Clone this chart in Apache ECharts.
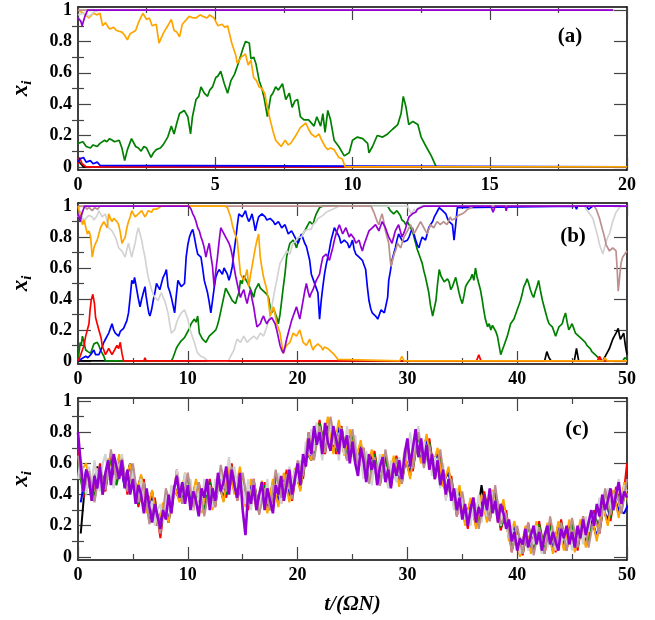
<!DOCTYPE html>
<html>
<head>
<meta charset="utf-8">
<script src="https://cdn.jsdelivr.net/npm/echarts@6/dist/echarts.min.js"></script>
<style>
  html, body { margin: 0; padding: 0; background: #fff; }
  #chart { width: 655px; height: 620px; }
</style>
</head>
<body>
<div id="chart"></div>
<script>
// ---- panel (a): [t, x_i] pairs ----
const aBlack = [[0,0.04],[0.1,0.02],[0.2,0],[20,0]];
const aRed = [[0,0.02],[0.06,0.06],[0.15,0.02],[0.3,0],[20,0]];
const aGreen = [[0,0.15],[0.06,0.15],[0.18,0.16],[0.3,0.13],[0.45,0.12],[0.55,0.14],[0.7,0.13],[0.8,0.15],[0.97,0.17],[1.05,0.16],[1.15,0.18],[1.25,0.17],[1.33,0.16],[1.5,0.17],[1.6,0.12],[1.7,0.04],[1.8,0.11],[1.95,0.18],[2.1,0.13],[2.2,0.12],[2.3,0.1],[2.4,0.13],[2.5,0.12],[2.66,0.06],[2.75,0.09],[2.85,0.11],[3.0,0.12],[3.1,0.14],[3.27,0.19],[3.4,0.26],[3.5,0.21],[3.6,0.28],[3.7,0.34],[3.87,0.36],[4.0,0.32],[4.1,0.21],[4.17,0.32],[4.3,0.43],[4.4,0.45],[4.48,0.51],[4.6,0.47],[4.72,0.45],[4.8,0.49],[4.9,0.51],[5.02,0.57],[5.1,0.58],[5.2,0.61],[5.33,0.53],[5.45,0.47],[5.57,0.55],[5.7,0.59],[5.8,0.64],[5.93,0.71],[6.0,0.75],[6.1,0.8],[6.24,0.79],[6.3,0.69],[6.4,0.7],[6.48,0.66],[6.6,0.55],[6.7,0.5],[6.78,0.44],[6.9,0.32],[7.02,0.45],[7.1,0.47],[7.2,0.51],[7.3,0.49],[7.45,0.53],[7.57,0.43],[7.7,0.47],[7.8,0.38],[7.9,0.42],[8.0,0.43],[8.1,0.32],[8.23,0.3],[8.4,0.3],[8.6,0.26],[8.7,0.32],[8.84,0.26],[8.92,0.34],[9.0,0.22],[9.1,0.36],[9.2,0.3],[9.33,0.17],[9.5,0.13],[9.7,0.07],[9.88,0.09],[10.0,0.17],[10.18,0.19],[10.37,0.18],[10.55,0.15],[10.6,0.09],[10.73,0.13],[10.9,0.2],[11.1,0.19],[11.28,0.21],[11.46,0.24],[11.65,0.27],[11.77,0.34],[11.85,0.45],[11.95,0.38],[12.05,0.27],[12.2,0.29],[12.38,0.27],[12.5,0.19],[12.68,0.13],[12.87,0.07],[13.05,0],[20,0]];
const aBlue = [[0,0.03],[0.06,0.05],[0.2,0.06],[0.3,0.03],[0.45,0.04],[0.55,0.02],[0.7,0.03],[0.8,0.01],[0.85,0],[20,0]];
const aOrange = [[0,1],[0.06,0.99],[0.2,0.98],[0.4,0.95],[0.55,0.98],[0.7,0.97],[0.8,0.98],[0.9,0.9],[1.0,0.92],[1.15,0.88],[1.3,0.89],[1.4,0.87],[1.6,0.86],[1.7,0.84],[1.8,0.81],[1.9,0.85],[2.1,0.87],[2.2,0.92],[2.36,0.98],[2.5,0.94],[2.6,0.95],[2.7,0.9],[2.85,0.91],[2.95,0.79],[3.1,0.85],[3.2,0.88],[3.27,0.9],[3.4,0.94],[3.5,0.87],[3.6,0.86],[3.7,0.83],[3.8,0.91],[3.9,0.93],[4.05,0.96],[4.2,0.95],[4.3,0.95],[4.45,0.97],[4.55,0.96],[4.7,0.95],[4.8,0.97],[4.95,0.95],[5.1,0.9],[5.25,0.91],[5.35,0.89],[5.45,0.9],[5.6,0.79],[5.75,0.71],[5.8,0.66],[5.95,0.7],[6.1,0.72],[6.2,0.65],[6.3,0.68],[6.4,0.57],[6.5,0.55],[6.6,0.51],[6.7,0.5],[6.8,0.47],[6.9,0.38],[7.0,0.3],[7.1,0.23],[7.2,0.17],[7.3,0.15],[7.4,0.13],[7.55,0.17],[7.65,0.14],[7.75,0.15],[7.9,0.19],[8.0,0.22],[8.1,0.25],[8.3,0.28],[8.4,0.24],[8.5,0.21],[8.65,0.19],[8.78,0.21],[8.85,0.18],[9.0,0.13],[9.1,0.11],[9.2,0.12],[9.33,0.11],[9.5,0.06],[9.63,0.05],[9.73,0],[20,0]];
const aGray = [[0,0.97],[0.2,0.98],[0.4,0.96],[0.6,0.99],[0.8,1],[19.5,1]];
const aBrown = [[0,1],[19.5,1]];
const aPurple = [[0,0.95],[0.1,0.93],[0.15,0.9],[0.25,0.96],[0.35,1],[19.5,1]];

// ---- panel (b) ----
const bBlack = [[0,0],[42.5,0],[42.7,0.06],[42.9,0.02],[43.1,0],[45.2,0],[45.4,0.08],[45.6,0],[47.8,0],[48.1,0.04],[48.25,0.06],[48.4,0.08],[48.55,0.11],[48.7,0.14],[48.85,0.16],[49.0,0.18],[49.2,0.21],[49.3,0.17],[49.4,0.14],[49.55,0.16],[49.7,0.18],[49.85,0.1],[50,0.04]];
const bGreen = [[0,0],[0.1,0.06],[0.2,0.12],[0.3,0.1],[0.4,0.16],[0.55,0.12],[0.7,0.07],[0.9,0.06],[1.15,0.05],[1.3,0.08],[1.45,0.11],[1.6,0.1],[1.75,0.12],[1.9,0.1],[2.05,0.07],[2.2,0.05],[2.35,0.03],[2.5,0],[8.5,0],[8.65,0.02],[8.8,0.05],[8.95,0.08],[9.1,0.1],[9.25,0.09],[9.4,0.13],[9.55,0.12],[9.7,0.15],[9.85,0.14],[10.0,0.19],[10.15,0.21],[10.3,0.24],[10.45,0.23],[10.6,0.27],[10.75,0.25],[10.9,0.29],[11.05,0.18],[11.2,0.16],[11.35,0.14],[11.5,0.15],[11.65,0.12],[11.8,0.14],[11.95,0.16],[12.1,0.15],[12.25,0.18],[12.4,0.17],[12.55,0.2],[12.7,0.23],[12.85,0.27],[13.0,0.32],[13.15,0.37],[13.3,0.42],[13.45,0.47],[13.6,0.45],[13.75,0.44],[13.9,0.41],[14.05,0.39],[14.2,0.4],[14.35,0.37],[14.5,0.41],[14.65,0.44],[14.8,0.52],[14.95,0.5],[15.1,0.55],[15.25,0.53],[15.4,0.52],[15.55,0.49],[15.7,0.48],[15.85,0.44],[16.0,0.41],[16.15,0.46],[16.3,0.48],[16.45,0.5],[16.6,0.47],[16.75,0.46],[16.9,0.45],[17.05,0.44],[17.2,0.43],[17.35,0.41],[17.5,0.35],[17.65,0.31],[17.8,0.34],[17.95,0.33],[18.1,0.28],[18.25,0.24],[18.4,0.3],[18.55,0.39],[18.7,0.48],[18.85,0.56],[19.0,0.67],[19.15,0.72],[19.3,0.76],[19.45,0.75],[19.6,0.78],[19.75,0.76],[19.9,0.73],[20.05,0.77],[20.2,0.8],[20.35,0.79],[20.5,0.82],[20.65,0.84],[20.8,0.86],[20.95,0.88],[21.1,0.9],[21.25,0.89],[21.4,0.88],[21.55,0.92],[21.7,0.95],[21.85,0.97],[22.0,0.99],[22.3,1],[28.2,1],[28.3,0.99],[28.45,0.97],[28.6,0.97],[28.75,0.95],[28.9,0.96],[29.05,0.97],[29.2,0.98],[29.35,0.94],[29.5,0.91],[29.7,0.9],[29.85,0.88],[30.0,0.9],[30.15,0.89],[30.3,0.86],[30.45,0.84],[30.6,0.8],[30.75,0.76],[30.9,0.72],[31.05,0.69],[31.2,0.66],[31.35,0.63],[31.5,0.58],[31.65,0.54],[31.8,0.49],[31.95,0.44],[32.1,0.36],[32.3,0.29],[32.45,0.34],[32.6,0.39],[32.75,0.5],[32.9,0.59],[33.05,0.55],[33.2,0.53],[33.35,0.51],[33.5,0.5],[33.65,0.53],[33.8,0.51],[33.95,0.46],[34.1,0.48],[34.25,0.51],[34.4,0.54],[34.55,0.49],[34.7,0.44],[34.85,0.4],[35.0,0.37],[35.15,0.42],[35.3,0.48],[35.45,0.5],[35.6,0.51],[35.75,0.53],[35.9,0.56],[36.05,0.52],[36.2,0.6],[36.35,0.54],[36.5,0.5],[36.65,0.46],[36.8,0.4],[36.95,0.33],[37.1,0.27],[37.3,0.22],[37.45,0.24],[37.6,0.2],[37.75,0.23],[37.9,0.22],[38.05,0.19],[38.2,0.16],[38.35,0.1],[38.5,0.04],[38.65,0.07],[38.8,0.1],[38.95,0.13],[39.1,0.16],[39.25,0.2],[39.4,0.24],[39.55,0.25],[39.7,0.27],[39.85,0.3],[40.0,0.33],[40.15,0.36],[40.3,0.39],[40.45,0.43],[40.6,0.48],[40.75,0.5],[40.9,0.53],[41.05,0.5],[41.2,0.46],[41.35,0.43],[41.5,0.41],[41.65,0.45],[41.8,0.48],[41.95,0.52],[42.1,0.46],[42.3,0.39],[42.45,0.35],[42.6,0.31],[42.75,0.27],[42.9,0.24],[43.05,0.25],[43.2,0.22],[43.35,0.19],[43.5,0.16],[43.65,0.19],[43.8,0.22],[43.95,0.23],[44.1,0.24],[44.25,0.28],[44.4,0.31],[44.55,0.25],[44.7,0.2],[44.85,0.22],[45.0,0.24],[45.15,0.21],[45.3,0.18],[45.45,0.19],[45.6,0.16],[45.75,0.15],[45.9,0.14],[46.05,0.13],[46.2,0.12],[46.35,0.1],[46.5,0.09],[46.65,0.08],[46.8,0.06],[46.95,0.05],[47.1,0.04],[47.25,0.03],[47.4,0.02],[47.7,0],[49.6,0],[49.8,0.02],[50,0.01]];
const bBlue = [[0,0],[0.7,0.03],[0.9,0.02],[1.15,0.04],[1.3,0.05],[1.45,0.07],[1.6,0.04],[1.75,0.03],[1.9,0.04],[2.05,0.05],[2.2,0.09],[2.35,0.12],[2.5,0.14],[2.65,0.16],[2.8,0.18],[2.95,0.21],[3.1,0.24],[3.25,0.2],[3.4,0.18],[3.55,0.17],[3.7,0.16],[3.85,0.19],[4.0,0.2],[4.15,0.21],[4.3,0.2],[4.45,0.26],[4.6,0.31],[4.75,0.41],[4.9,0.52],[5.05,0.5],[5.15,0.54],[5.25,0.5],[5.35,0.46],[5.5,0.4],[5.65,0.35],[5.8,0.4],[5.95,0.44],[6.1,0.48],[6.2,0.42],[6.35,0.35],[6.45,0.31],[6.55,0.29],[6.7,0.33],[6.85,0.39],[7.0,0.44],[7.15,0.5],[7.3,0.48],[7.45,0.46],[7.6,0.5],[7.75,0.54],[7.9,0.56],[8.05,0.59],[8.2,0.48],[8.35,0.45],[8.5,0.41],[8.65,0.36],[8.8,0.31],[8.95,0.42],[9.1,0.52],[9.25,0.5],[9.4,0.48],[9.55,0.47],[9.7,0.5],[9.85,0.67],[10.0,0.75],[10.15,0.8],[10.3,0.83],[10.45,0.85],[10.6,0.8],[10.75,0.74],[10.9,0.69],[11.05,0.7],[11.2,0.67],[11.35,0.6],[11.5,0.52],[11.65,0.48],[11.8,0.44],[11.95,0.38],[12.1,0.31],[12.25,0.39],[12.4,0.47],[12.55,0.54],[12.7,0.57],[12.85,0.59],[13.0,0.58],[13.15,0.56],[13.3,0.6],[13.45,0.61],[13.6,0.56],[13.75,0.52],[13.9,0.56],[14.05,0.61],[14.2,0.7],[14.35,0.78],[14.5,0.87],[14.65,0.95],[14.8,0.94],[14.95,0.93],[15.1,0.95],[15.25,0.97],[15.4,0.93],[15.55,0.9],[15.7,0.92],[15.85,0.95],[16.0,0.9],[16.15,0.84],[16.3,0.89],[16.45,0.93],[16.6,0.94],[16.75,0.95],[16.9,0.94],[17.05,0.93],[17.2,0.91],[17.35,0.9],[17.5,0.92],[17.65,0.93],[17.8,0.9],[17.95,0.88],[18.1,0.89],[18.25,0.9],[18.4,0.88],[18.55,0.86],[18.7,0.87],[18.85,0.88],[19.0,0.85],[19.15,0.82],[19.3,0.83],[19.45,0.84],[19.6,0.82],[19.75,0.8],[19.9,0.78],[20.05,0.76],[20.2,0.79],[20.35,0.82],[20.5,0.79],[20.65,0.76],[20.8,0.74],[20.95,0.73],[21.1,0.65],[21.25,0.56],[21.4,0.53],[21.55,0.5],[21.7,0.47],[21.85,0.44],[22.0,0.27],[22.15,0.39],[22.3,0.48],[22.45,0.56],[22.6,0.62],[22.75,0.67],[22.9,0.72],[23.05,0.78],[23.2,0.82],[23.35,0.86],[23.5,0.84],[23.65,0.82],[23.8,0.8],[23.95,0.76],[24.1,0.76],[24.25,0.78],[24.4,0.78],[24.55,0.76],[24.7,0.73],[24.85,0.75],[25.0,0.78],[25.15,0.72],[25.3,0.69],[25.45,0.68],[25.6,0.67],[25.75,0.66],[25.9,0.65],[26.05,0.62],[26.2,0.59],[26.35,0.48],[26.5,0.39],[26.65,0.34],[26.8,0.31],[26.95,0.3],[27.1,0.29],[27.3,0.27],[27.45,0.3],[27.6,0.33],[27.75,0.32],[27.9,0.31],[28.05,0.36],[28.2,0.41],[28.3,0.52],[28.45,0.58],[28.6,0.65],[28.75,0.69],[28.9,0.73],[29.05,0.78],[29.2,0.82],[29.35,0.8],[29.5,0.78],[29.7,0.77],[29.85,0.76],[30.0,0.78],[30.15,0.8],[30.3,0.83],[30.45,0.86],[30.6,0.82],[30.75,0.78],[30.9,0.75],[31.05,0.73],[31.2,0.77],[31.35,0.8],[31.5,0.79],[31.65,0.78],[31.8,0.82],[31.95,0.86],[32.1,0.88],[32.3,0.9],[32.45,0.93],[32.6,0.95],[32.75,0.97],[32.9,0.99],[33.05,0.98],[33.2,0.97],[33.35,0.96],[33.5,0.95],[33.65,0.92],[33.8,0.9],[33.95,0.89],[34.1,0.88],[34.25,0.78],[34.4,0.88],[34.55,0.99],[34.7,1],[45.3,1],[45.4,0.98],[45.5,1],[46.3,1],[46.5,0.98],[46.7,0.99],[46.9,1],[50,1]];
const bGray = [[0,0.93],[0.1,0.95],[0.25,0.97],[0.4,0.93],[0.55,0.9],[0.7,0.92],[0.85,0.93],[1.0,0.94],[1.15,0.95],[1.3,0.93],[1.45,0.91],[1.6,0.9],[1.75,0.94],[1.9,0.97],[2.05,0.95],[2.2,0.93],[2.35,0.94],[2.5,0.95],[2.65,0.9],[2.8,0.86],[2.95,0.85],[3.1,0.84],[3.25,0.82],[3.4,0.8],[3.55,0.77],[3.7,0.73],[3.85,0.72],[4.0,0.71],[4.15,0.69],[4.3,0.67],[4.45,0.72],[4.6,0.76],[4.75,0.71],[4.9,0.67],[5.05,0.72],[5.2,0.76],[5.35,0.82],[5.5,0.86],[5.65,0.82],[5.8,0.78],[5.95,0.72],[6.1,0.67],[6.25,0.6],[6.4,0.54],[6.55,0.5],[6.7,0.46],[6.85,0.43],[7.0,0.41],[7.15,0.4],[7.3,0.39],[7.45,0.42],[7.6,0.44],[7.75,0.41],[7.9,0.39],[8.05,0.35],[8.2,0.31],[8.35,0.24],[8.5,0.18],[8.65,0.19],[8.8,0.2],[8.95,0.24],[9.1,0.27],[9.25,0.29],[9.4,0.31],[9.55,0.32],[9.7,0.33],[9.85,0.3],[10.0,0.27],[10.15,0.22],[10.3,0.18],[10.45,0.15],[10.6,0.12],[10.75,0.08],[10.9,0.05],[11.05,0.04],[11.2,0.03],[11.5,0.02],[11.8,0],[13.7,0],[13.9,0.03],[14.05,0.05],[14.2,0.07],[14.35,0.11],[14.5,0.14],[14.65,0.13],[14.8,0.12],[14.95,0.14],[15.1,0.16],[15.25,0.14],[15.4,0.12],[15.55,0.13],[15.7,0.14],[15.85,0.15],[16.0,0.16],[16.15,0.15],[16.3,0.14],[16.45,0.16],[16.6,0.18],[16.75,0.17],[16.9,0.16],[17.05,0.19],[17.2,0.22],[17.35,0.26],[17.5,0.29],[17.65,0.35],[17.8,0.41],[17.95,0.47],[18.1,0.52],[18.25,0.58],[18.4,0.63],[18.55,0.65],[18.7,0.67],[18.85,0.69],[19.0,0.71],[19.15,0.7],[19.3,0.69],[19.45,0.73],[19.6,0.76],[19.75,0.77],[19.9,0.78],[20.05,0.8],[20.2,0.81],[20.35,0.8],[20.5,0.82],[20.65,0.84],[20.8,0.83],[20.95,0.85],[21.1,0.86],[21.25,0.85],[21.4,0.88],[21.55,0.89],[21.7,0.9],[21.85,0.92],[22.0,0.93],[22.3,0.94],[22.6,0.96],[22.9,0.97],[23.2,0.98],[23.5,0.99],[23.8,1],[30.0,1],[30.2,0.97],[30.4,0.95],[30.6,0.98],[30.8,0.96],[31.0,0.99],[31.2,1],[46.1,1],[46.3,0.98],[46.6,0.95],[46.9,0.92],[47.05,0.88],[47.2,0.84],[47.35,0.8],[47.5,0.75],[47.65,0.72],[47.8,0.69],[47.95,0.73],[48.1,0.77],[48.25,0.8],[48.4,0.82],[48.55,0.86],[48.7,0.9],[48.85,0.93],[49.0,0.96],[49.3,0.99],[49.5,1],[50,1]];
const bBrown = [[0,1],[0.6,1],[0.8,0.98],[1.0,0.99],[1.3,0.97],[1.5,0.99],[1.8,0.98],[2.0,1],[26.7,1],[26.8,0.99],[26.95,0.96],[27.1,0.93],[27.25,0.9],[27.4,0.88],[27.55,0.92],[27.7,0.95],[27.85,0.9],[28.0,0.84],[28.15,0.8],[28.3,0.76],[28.4,0.68],[28.5,0.61],[28.65,0.65],[28.8,0.69],[28.95,0.72],[29.1,0.76],[29.25,0.75],[29.4,0.73],[29.55,0.77],[29.7,0.8],[29.85,0.82],[30.0,0.84],[30.15,0.86],[30.3,0.88],[30.45,0.85],[30.6,0.82],[30.75,0.84],[30.9,0.86],[31.05,0.88],[31.2,0.9],[31.35,0.88],[31.5,0.86],[31.65,0.84],[31.8,0.82],[31.95,0.85],[32.1,0.88],[32.25,0.87],[32.4,0.86],[32.55,0.88],[32.7,0.9],[32.85,0.89],[33.0,0.88],[33.15,0.89],[33.3,0.9],[33.45,0.89],[33.6,0.88],[33.75,0.9],[33.9,0.93],[34.05,0.91],[34.2,0.9],[34.35,0.92],[34.5,0.93],[34.65,0.94],[34.8,0.95],[35.0,0.95],[35.2,0.96],[35.5,0.98],[35.8,0.99],[36.0,1],[47.0,1],[47.2,0.98],[47.35,0.95],[47.5,0.92],[47.65,0.88],[47.8,0.84],[47.95,0.8],[48.1,0.75],[48.25,0.73],[48.4,0.71],[48.55,0.72],[48.7,0.73],[48.85,0.72],[49.0,0.71],[49.1,0.6],[49.2,0.45],[49.3,0.52],[49.45,0.63],[49.6,0.67],[49.8,0.69],[50,0.71]];
const bRed = [[0,0],[0.2,0.03],[0.4,0.07],[0.55,0.1],[0.7,0.16],[0.85,0.2],[1.0,0.24],[1.1,0.33],[1.2,0.39],[1.35,0.43],[1.5,0.37],[1.6,0.28],[1.75,0.24],[1.9,0.2],[2.1,0.15],[2.2,0.1],[2.35,0.07],[2.5,0.04],[2.65,0.05],[2.8,0.08],[2.95,0.07],[3.1,0.04],[3.25,0.05],[3.4,0.08],[3.55,0.1],[3.7,0.08],[3.85,0.12],[4.0,0.05],[4.15,0],[6.0,0],[6.1,0.02],[6.2,0],[36.3,0],[36.5,0.04],[36.7,0],[47.3,0],[47.5,0.03],[47.7,0],[50,0]];
const bOrange = [[0,1],[0.1,0.99],[0.25,0.93],[0.4,0.88],[0.55,0.91],[0.7,0.9],[0.85,0.82],[1.0,0.84],[1.15,0.8],[1.3,0.67],[1.45,0.73],[1.6,0.76],[1.75,0.78],[1.9,0.82],[2.05,0.86],[2.2,0.88],[2.35,0.9],[2.5,0.88],[2.65,0.86],[2.8,0.95],[2.95,0.92],[3.1,0.9],[3.25,0.92],[3.4,0.93],[3.55,0.9],[3.7,0.88],[3.85,0.83],[4.0,0.76],[4.15,0.78],[4.3,0.8],[4.45,0.86],[4.6,0.9],[4.75,0.93],[4.9,0.97],[5.05,0.95],[5.2,0.93],[5.35,0.94],[5.5,0.95],[5.65,0.96],[5.8,0.97],[5.95,0.95],[6.1,0.93],[6.25,0.95],[6.4,0.97],[6.55,0.96],[6.7,0.96],[6.85,0.98],[7.0,0.97],[7.15,0.98],[7.3,0.99],[7.6,1],[13.4,1],[13.6,0.99],[13.75,0.96],[13.9,0.93],[14.05,0.88],[14.2,0.84],[14.35,0.81],[14.5,0.78],[14.65,0.67],[14.8,0.56],[14.95,0.54],[15.1,0.52],[15.25,0.55],[15.4,0.59],[15.55,0.48],[15.7,0.55],[15.85,0.61],[16.0,0.67],[16.15,0.73],[16.3,0.78],[16.45,0.82],[16.6,0.67],[16.75,0.6],[16.9,0.54],[17.05,0.5],[17.2,0.46],[17.35,0.38],[17.5,0.29],[17.65,0.32],[17.8,0.35],[17.95,0.3],[18.1,0.24],[18.25,0.21],[18.4,0.18],[18.55,0.11],[18.7,0.05],[18.85,0.08],[19.0,0.1],[19.15,0.11],[19.3,0.12],[19.45,0.15],[19.6,0.18],[19.75,0.17],[19.9,0.16],[20.05,0.18],[20.2,0.2],[20.35,0.16],[20.5,0.12],[20.65,0.11],[20.8,0.1],[20.95,0.12],[21.1,0.14],[21.25,0.1],[21.4,0.07],[21.55,0.09],[21.7,0.1],[21.85,0.11],[22.0,0.12],[22.15,0.09],[22.3,0.07],[22.45,0.09],[22.6,0.1],[22.75,0.08],[22.9,0.07],[23.05,0.06],[23.2,0.05],[23.35,0.04],[23.5,0.03],[23.65,0.01],[23.8,0],[29.3,0],[29.5,0.03],[29.7,0],[47.8,0],[48.0,0.02],[48.2,0],[50,0]];
const bPurple = [[0,0.95],[0.1,0.93],[0.2,0.9],[0.3,0.94],[0.45,0.97],[0.6,1],[10.1,1],[10.3,0.98],[10.45,0.95],[10.6,0.93],[10.75,0.9],[10.9,0.86],[11.05,0.84],[11.2,0.8],[11.35,0.77],[11.5,0.73],[11.65,0.67],[11.8,0.72],[11.95,0.76],[12.1,0.68],[12.25,0.61],[12.4,0.48],[12.55,0.58],[12.7,0.67],[12.85,0.77],[13.0,0.86],[13.15,0.84],[13.3,0.82],[13.45,0.8],[13.6,0.78],[13.75,0.76],[13.9,0.73],[14.05,0.68],[14.2,0.61],[14.35,0.55],[14.5,0.5],[14.65,0.45],[14.8,0.41],[14.95,0.44],[15.1,0.46],[15.25,0.41],[15.4,0.37],[15.55,0.42],[15.7,0.46],[15.85,0.4],[16.0,0.35],[16.15,0.28],[16.3,0.22],[16.45,0.23],[16.6,0.24],[16.75,0.27],[16.9,0.29],[17.05,0.26],[17.2,0.24],[17.35,0.26],[17.5,0.27],[17.65,0.28],[17.8,0.29],[17.95,0.24],[18.1,0.2],[18.25,0.15],[18.4,0.1],[18.55,0.07],[18.7,0.05],[18.85,0.09],[19.0,0.14],[19.15,0.18],[19.3,0.22],[19.45,0.26],[19.6,0.29],[19.75,0.32],[19.9,0.35],[20.05,0.31],[20.2,0.27],[20.35,0.33],[20.5,0.39],[20.65,0.45],[20.8,0.5],[20.95,0.45],[21.1,0.41],[21.25,0.44],[21.4,0.46],[21.55,0.49],[21.7,0.52],[21.85,0.54],[22.0,0.56],[22.15,0.62],[22.3,0.67],[22.45,0.68],[22.6,0.69],[22.75,0.67],[22.9,0.65],[23.05,0.69],[23.2,0.73],[23.35,0.78],[23.5,0.82],[23.65,0.85],[23.8,0.88],[23.95,0.85],[24.1,0.82],[24.25,0.84],[24.4,0.86],[24.55,0.83],[24.7,0.8],[24.85,0.82],[25.0,0.83],[25.15,0.79],[25.3,0.76],[25.45,0.77],[25.6,0.78],[25.75,0.74],[25.9,0.71],[26.05,0.75],[26.2,0.78],[26.35,0.81],[26.5,0.84],[26.65,0.85],[26.8,0.86],[26.95,0.87],[27.1,0.88],[27.25,0.86],[27.4,0.84],[27.55,0.87],[27.7,0.9],[27.85,0.88],[28.0,0.86],[28.15,0.83],[28.3,0.8],[28.45,0.78],[28.6,0.76],[28.75,0.8],[28.9,0.84],[29.05,0.86],[29.2,0.88],[29.35,0.84],[29.5,0.8],[29.7,0.83],[29.85,0.86],[30.0,0.9],[30.15,0.93],[30.3,0.94],[30.45,0.95],[30.6,0.95],[30.75,0.96],[30.9,0.98],[31.05,0.99],[31.5,1],[37.6,1],[37.8,0.96],[38.0,1],[38.9,1],[39.0,0.97],[39.1,1],[50,1]];

// ---- panel (c) ----
// purple and gray: one value every 0.25 time unit, from t = 0
const cPurple = [
  0.8,0.6,0.42,0.56,0.5,0.36,0.52,0.44,0.58,0.4,0.54,0.62,0.46,0.66,0.58,0.5,0.62,0.44,0.56,0.4,
  0.5,0.34,0.46,0.4,0.28,0.44,0.32,0.22,0.34,0.26,0.18,0.3,0.24,0.4,0.28,0.44,0.52,0.38,0.48,0.34,
  0.46,0.3,0.42,0.36,0.26,0.44,0.38,0.5,0.3,0.44,0.36,0.54,0.42,0.48,0.58,0.4,0.56,0.46,0.38,0.54,
  0.3,0.14,0.42,0.34,0.46,0.3,0.4,0.48,0.3,0.44,0.36,0.28,0.46,0.4,0.52,0.36,0.46,0.56,0.4,0.5,
  0.6,0.46,0.66,0.58,0.76,0.66,0.84,0.72,0.8,0.66,0.86,0.74,0.68,0.84,0.76,0.66,0.82,0.7,0.78,0.6,
  0.74,0.6,0.52,0.7,0.62,0.48,0.66,0.56,0.62,0.46,0.58,0.64,0.48,0.56,0.44,0.6,0.52,0.62,0.5,0.66,
  0.76,0.58,0.7,0.82,0.64,0.76,0.6,0.72,0.56,0.66,0.5,0.62,0.46,0.56,0.4,0.5,0.36,0.44,0.3,0.38,
  0.24,0.34,0.2,0.3,0.38,0.22,0.32,0.26,0.4,0.3,0.44,0.28,0.36,0.22,0.34,0.28,0.18,0.24,0.1,0.16,
  0.04,0.12,0.08,0.18,0.06,0.14,0.2,0.08,0.16,0.04,0.14,0.2,0.08,0.16,0.1,0.04,0.18,0.12,0.2,0.08,
  0.16,0.06,0.2,0.12,0.24,0.14,0.22,0.3,0.2,0.34,0.26,0.4,0.3,0.36,0.44,0.3,0.4,0.48,0.34,0.42,
  0.38];
const cGray = [
  0.5,0.64,0.5,0.4,0.58,0.46,0.62,0.5,0.42,0.6,0.66,0.5,0.58,0.44,0.62,0.56,0.66,0.48,0.54,0.42,
  0.56,0.44,0.36,0.5,0.3,0.4,0.26,0.36,0.2,0.3,0.34,0.22,0.4,0.3,0.46,0.38,0.56,0.46,0.4,0.54,
  0.38,0.5,0.3,0.46,0.38,0.3,0.5,0.4,0.46,0.32,0.5,0.4,0.56,0.44,0.52,0.64,0.5,0.58,0.44,0.52,
  0.46,0.34,0.5,0.3,0.44,0.36,0.28,0.46,0.36,0.5,0.3,0.46,0.4,0.54,0.34,0.48,0.42,0.58,0.46,0.56,
  0.48,0.62,0.56,0.74,0.66,0.82,0.68,0.86,0.74,0.62,0.8,0.7,0.88,0.72,0.8,0.62,0.76,0.66,0.84,0.7,
  0.64,0.78,0.56,0.64,0.5,0.68,0.56,0.46,0.6,0.52,0.66,0.5,0.58,0.44,0.62,0.54,0.48,0.64,0.56,0.7,
  0.62,0.8,0.66,0.74,0.84,0.68,0.74,0.62,0.7,0.52,0.64,0.56,0.44,0.6,0.36,0.48,0.42,0.3,0.44,0.28,
  0.38,0.24,0.3,0.2,0.36,0.28,0.4,0.22,0.34,0.26,0.36,0.42,0.28,0.36,0.2,0.3,0.22,0.12,0.2,0.08,
  0.14,0.02,0.1,0.16,0.04,0.12,0.08,0.2,0.1,0.02,0.16,0.06,0.12,0.2,0.04,0.14,0.08,0.18,0.06,0.14,
  0.04,0.18,0.1,0.2,0.08,0.26,0.16,0.3,0.22,0.28,0.38,0.26,0.32,0.44,0.3,0.4,0.36,0.5,0.32,0.46,
  0.42];
// the others: one value every 0.5 time unit (brown, green, red from t = 0; orange, blue, black from t = 0.25)
const cBrown = [
  0.65,0.42,0.55,0.35,0.56,0.43,0.69,0.5,0.63,0.42, 0.6,0.35,0.48,0.21,0.34,0.15,0.44,0.32,0.53,0.34,
  0.54,0.32,0.48,0.26,0.46,0.32,0.59,0.42,0.58,0.36, 0.54,0.33,0.5,0.27,0.44,0.3,0.56,0.38,0.53,0.37,
  0.62,0.52,0.8,0.62,0.84,0.67,0.9,0.7,0.83,0.62, 0.82,0.57,0.7,0.47,0.64,0.46,0.69,0.49,0.63,0.47,
  0.72,0.57,0.8,0.57,0.72,0.5,0.69,0.42,0.5,0.26, 0.42,0.2,0.38,0.18,0.38,0.23,0.46,0.21,0.28,0.03,
  0.2,0.02,0.22,0.01,0.19,0.02,0.26,0.07,0.22,0.04, 0.25,0.06,0.26,0.06,0.26,0.15,0.44,0.27,0.43,0.28,
  0.5];
const cOrange = [
  0.55,0.6,0.36,0.57,0.4,0.63,0.46,0.66,0.47,0.6, 0.38,0.53,0.28,0.43,0.2,0.35,0.22,0.46,0.35,0.54,
  0.32,0.5,0.28,0.46,0.3,0.52,0.35,0.58,0.4,0.58, 0.32,0.5,0.3,0.49,0.28,0.5,0.32,0.54,0.35,0.57,
  0.42,0.7,0.62,0.86,0.68,0.9,0.66,0.88,0.65,0.82, 0.6,0.75,0.5,0.69,0.48,0.66,0.45,0.65,0.45,0.67,
  0.5,0.75,0.6,0.79,0.56,0.7,0.45,0.58,0.32,0.46, 0.2,0.38,0.18,0.4,0.22,0.43,0.22,0.37,0.1,0.23,
  0.0,0.2,0.02,0.23,0.03,0.22,0.02,0.23,0.04,0.24, 0.03,0.24,0.06,0.28,0.1,0.35,0.2,0.43,0.25,0.48,
  0.3];
const cBlue = [
  0.35,0.56,0.38,0.53,0.42,0.6,0.48,0.64,0.45,0.6, 0.4,0.5,0.3,0.38,0.2,0.3,0.24,0.42,0.38,0.5,
  0.36,0.46,0.3,0.44,0.34,0.48,0.38,0.54,0.44,0.52, 0.36,0.46,0.33,0.45,0.3,0.46,0.36,0.5,0.4,0.54,
  0.44,0.66,0.64,0.82,0.7,0.84,0.7,0.83,0.68,0.78, 0.62,0.71,0.52,0.66,0.5,0.62,0.48,0.62,0.48,0.64,
  0.54,0.72,0.62,0.76,0.58,0.67,0.48,0.54,0.35,0.42, 0.24,0.35,0.21,0.37,0.25,0.4,0.25,0.34,0.12,0.2,
  0.02,0.17,0.05,0.2,0.06,0.19,0.05,0.2,0.07,0.21, 0.06,0.21,0.09,0.25,0.13,0.32,0.24,0.4,0.3,0.28,
  0.36];
const cGreen = [
  0.6,0.4,0.54,0.38,0.58,0.44,0.62,0.46,0.62,0.43, 0.56,0.34,0.46,0.24,0.36,0.16,0.38,0.3,0.53,0.36,
  0.5,0.32,0.46,0.3,0.48,0.34,0.53,0.4,0.58,0.38, 0.5,0.33,0.48,0.31,0.46,0.32,0.5,0.36,0.53,0.39,
  0.58,0.52,0.78,0.66,0.86,0.69,0.84,0.68,0.83,0.64, 0.78,0.57,0.68,0.51,0.66,0.48,0.63,0.47,0.63,0.49,
  0.68,0.57,0.78,0.61,0.74,0.52,0.63,0.4,0.5,0.28, 0.38,0.2,0.36,0.22,0.4,0.25,0.4,0.19,0.28,0.05,
  0.16,0.02,0.2,0.05,0.21,0.04,0.2,0.05,0.22,0.06, 0.21,0.06,0.24,0.1,0.28,0.17,0.38,0.25,0.43,0.3,
  0.48];
const cRed = [
  0.7,0.38,0.56,0.36,0.6,0.42,0.66,0.48,0.64,0.4, 0.58,0.32,0.5,0.22,0.38,0.12,0.4,0.28,0.56,0.34,
  0.52,0.3,0.48,0.28,0.5,0.32,0.56,0.38,0.6,0.36, 0.52,0.3,0.5,0.28,0.48,0.3,0.52,0.34,0.56,0.36,
  0.6,0.5,0.8,0.64,0.88,0.66,0.86,0.66,0.84,0.62, 0.8,0.55,0.7,0.49,0.68,0.46,0.65,0.45,0.65,0.47,
  0.7,0.55,0.8,0.59,0.76,0.5,0.65,0.38,0.52,0.26, 0.4,0.18,0.38,0.2,0.42,0.23,0.42,0.17,0.3,0.03,
  0.18,0.01,0.22,0.03,0.23,0.02,0.22,0.03,0.24,0.04, 0.23,0.04,0.26,0.08,0.3,0.15,0.4,0.23,0.45,0.28,
  0.6];
const cBlack = [
  0.15,0.56,0.4,0.58,0.4,0.62,0.46,0.64,0.46,0.6, 0.4,0.52,0.3,0.42,0.2,0.34,0.22,0.46,0.36,0.52,
  0.34,0.48,0.3,0.46,0.32,0.5,0.36,0.56,0.42,0.54, 0.34,0.48,0.32,0.46,0.3,0.48,0.34,0.52,0.38,0.55,
  0.44,0.68,0.62,0.82,0.7,0.84,0.68,0.84,0.66,0.8, 0.62,0.73,0.52,0.67,0.5,0.64,0.47,0.63,0.47,0.65,
  0.52,0.73,0.62,0.77,0.58,0.68,0.47,0.56,0.34,0.44, 0.22,0.36,0.2,0.46,0.24,0.41,0.24,0.35,0.12,0.21,
  0.01,0.18,0.04,0.21,0.05,0.2,0.04,0.21,0.06,0.22, 0.05,0.22,0.08,0.26,0.12,0.33,0.22,0.41,0.27,0.46,
  0.4];

const yMajor = [0, 0.2, 0.4, 0.6, 0.8, 1];
const yMinor = [0.1, 0.3, 0.5, 0.7, 0.9];
const panelLabels = ['(a)', '(b)', '(c)'];

const COLORS = {
  black: '#000000', red: '#ff0000', green: '#008000', blue: '#0000ff',
  orange: '#ffa500', gray: '#d3d3d3', brown: '#bc8f8f', purple: '#9400d3'
};
const SERIF = '"Liberation Serif", "DejaVu Serif", serif';
const tickColor = '#444';

const grids = [
  { left: 78, top: 7, width: 549, height: 163 },
  { left: 78, top: 203, width: 549, height: 161 },
  { left: 78, top: 398, width: 549, height: 162 },
];

const labelFont = { color: '#000', fontFamily: SERIF, fontWeight: 'bold', fontSize: 18 };
const axisLine = { show: true, onZero: false, lineStyle: { color: '#000', width: 1.5 } };

const xAxes = [];
const yAxes = [];
[[20, 5], [50, 10], [50, 10]].forEach(([max, interval], g) => {
  const base = {
    type: 'value', gridIndex: g, min: 0, max: max, interval: interval,
    splitLine: { show: false }, axisLine: axisLine,
    axisTick: { inside: true, length: 13, lineStyle: { color: tickColor, width: 1.2 } },
    minorTick: { show: true, splitNumber: 2, length: 6, lineStyle: { color: tickColor, width: 1.2 } },
  };
  const bottom = Object.assign({}, base, {
    position: 'bottom',
    axisLabel: Object.assign({ margin: 6 }, labelFont),
  });
  if (g === 2) {
    bottom.name = 't/(ΩN)';
    bottom.nameLocation = 'middle';
    bottom.nameGap = 34;
    bottom.nameTextStyle = { color: '#000', fontFamily: SERIF, fontWeight: 'bold', fontStyle: 'italic', fontSize: 21 };
  }
  xAxes.push(bottom, Object.assign({}, base, { position: 'top', axisLabel: { show: false } }));

  const ybase = { type: 'value', gridIndex: g, min: -0.02, max: 1.02, splitLine: { show: false } };
  const majorTick = { inside: true, length: 13, customValues: yMajor, lineStyle: { color: tickColor, width: 1.2 } };
  const minorTick = { inside: true, length: 6, customValues: yMinor, lineStyle: { color: tickColor, width: 1.2 } };
  yAxes.push(
    Object.assign({}, ybase, {
      position: 'left', axisLine: axisLine, axisTick: majorTick,
      axisLabel: Object.assign({ margin: 6, customValues: yMajor, formatter: (v) => String(Math.round(v * 10) / 10) }, labelFont),
      name: '{x|x}{i|i}', nameLocation: 'middle', nameRotate: 90, nameGap: 43,
      nameTextStyle: {
        rich: {
          x: { fontFamily: SERIF, fontStyle: 'italic', fontWeight: 'bold', fontSize: 23, lineHeight: 28, color: '#000' },
          i: { fontFamily: SERIF, fontStyle: 'italic', fontWeight: 'bold', fontSize: 15, lineHeight: 14, verticalAlign: 'bottom', color: '#000' },
        },
      },
    }),
    Object.assign({}, ybase, { position: 'right', axisLine: axisLine, axisTick: majorTick, axisLabel: { show: false } }),
    Object.assign({}, ybase, { position: 'left', axisLine: { show: false }, axisTick: minorTick, axisLabel: { show: false } }),
    Object.assign({}, ybase, { position: 'right', axisLine: { show: false }, axisTick: minorTick, axisLabel: { show: false } })
  );
});

const line = (data, color, g, width) => ({
  type: 'line', data: data, xAxisIndex: g * 2, yAxisIndex: g * 4,
  symbol: 'none', showSymbol: false, silent: true, animation: false,
  lineStyle: { color: color, width: width || 1.7 },
  itemStyle: { color: color },
});
// pair each value with its time
const zipT = (vals, step, t0) => vals.map((v, i) => [(t0 || 0) + i * step, v]);

const series = [
  line(aBlack, COLORS.black, 0), line(aRed, COLORS.red, 0), line(aGreen, COLORS.green, 0),
  line(aBlue, COLORS.blue, 0), line(aOrange, COLORS.orange, 0), line(aGray, COLORS.gray, 0),
  line(aBrown, COLORS.brown, 0), line(aPurple, COLORS.purple, 0),

  line(bBlack, COLORS.black, 1), line(bGreen, COLORS.green, 1), line(bBlue, COLORS.blue, 1),
  line(bGray, COLORS.gray, 1), line(bBrown, COLORS.brown, 1), line(bRed, COLORS.red, 1),
  line(bOrange, COLORS.orange, 1), line(bPurple, COLORS.purple, 1),

  line(zipT(cBlack, 0.5, 0.25), COLORS.black, 2, 2), line(zipT(cRed, 0.5), COLORS.red, 2, 2),
  line(zipT(cGreen, 0.5), COLORS.green, 2, 2), line(zipT(cBlue, 0.5, 0.25), COLORS.blue, 2, 2),
  line(zipT(cOrange, 0.5, 0.25), COLORS.orange, 2, 2), line(zipT(cGray, 0.25), COLORS.gray, 2, 2.2),
  line(zipT(cBrown, 0.5), COLORS.brown, 2, 2), line(zipT(cPurple, 0.25), COLORS.purple, 2, 2.6),
];

const labelPos = [[570, 37], [573, 237], [577, 430]];
const graphic = panelLabels.map((t, k) => ({
  type: 'text', x: labelPos[k][0], y: labelPos[k][1], z: 100,
  style: { text: t, fill: '#000', font: 'bold 21px ' + SERIF, textAlign: 'center', textVerticalAlign: 'middle' },
}));

const chart = echarts.init(document.getElementById('chart'), null, { renderer: 'canvas' });
chart.setOption({
  animation: false,
  backgroundColor: '#fff',
  grid: grids,
  xAxis: xAxes,
  yAxis: yAxes,
  series: series,
  graphic: graphic,
});
</script>
</body>
</html>
